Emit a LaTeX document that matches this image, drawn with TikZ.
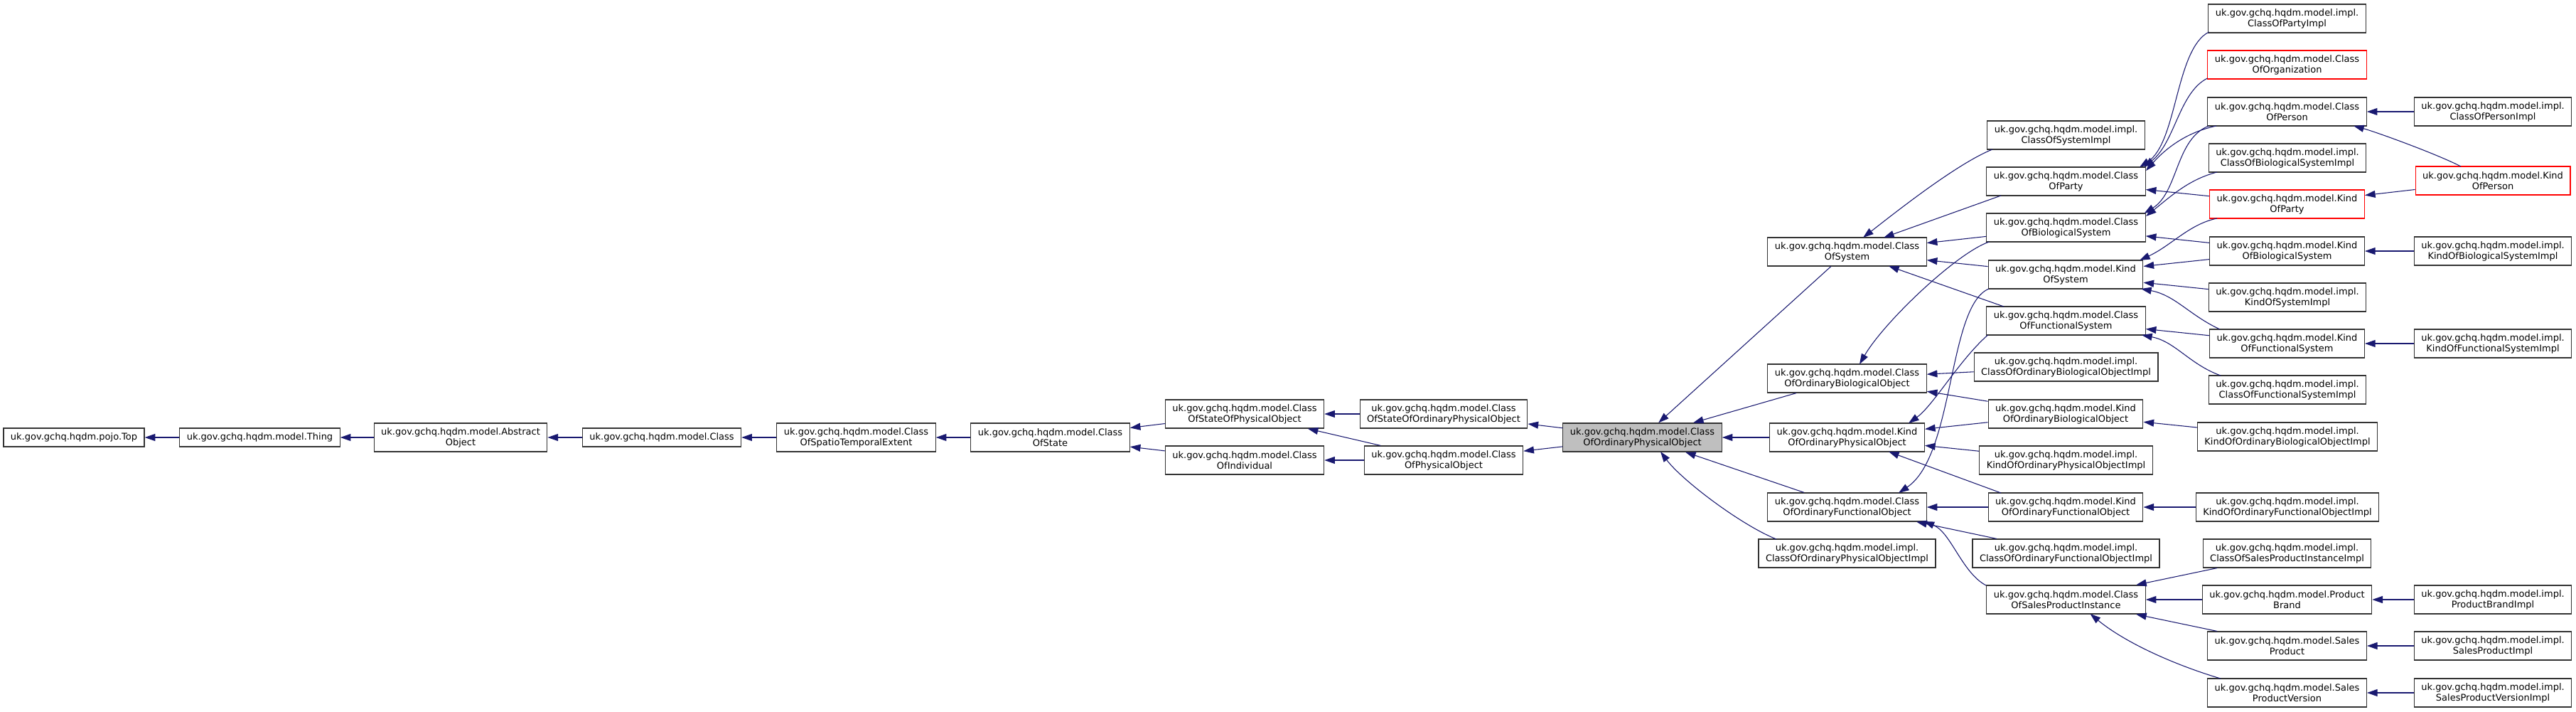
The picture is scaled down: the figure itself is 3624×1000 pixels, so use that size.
\documentclass[tikz,border=0pt]{standalone}
\usepackage{fontspec}
\setmainfont{DejaVu Sans}
\usetikzlibrary{arrows.meta,calc}
\definecolor{edgeblue}{HTML}{191970}
\definecolor{boxgray}{HTML}{BFBFBF}
\tikzset{
  cls/.style={draw=black!80, line width=0.9pt, fill=white, align=center,
    inner xsep=7.5pt, inner ysep=0pt, minimum height=30pt,
    font=\fontsize{9.75pt}{11.25pt}\selectfont},
  cls1/.style={cls, minimum height=19.5pt},
  focus/.style={cls, fill=boxgray},
  nodoc/.style={cls, draw=red},
  inh/.style={draw=edgeblue, line width=0.8pt, -{Triangle[length=11pt,width=7.5pt]}},
}
\newcommand{\pk}{uk.gov.gchq.hqdm.model.}
\begin{document}
\begin{tikzpicture}[x=0.75pt,y=-0.75pt]
  \useasboundingbox (0,0) rectangle (3624,1000);
  % base chain
  \node[cls1] (top) at (104,615) {uk.gov.gchq.hqdm.pojo.Top};
  \node[cls1] (thing) at (365.5,615) {\pk Thing};
  \node[cls] (absobj) at (648,615) {\pk Abstract\\Object};
  \node[cls1] (class) at (931,615) {\pk Class};
  \node[cls] (coste) at (1204.5,615) {\pk Class\\OfSpatioTemporalExtent};
  \node[cls] (costate) at (1477.5,615) {\pk Class\\OfState};
  \node[cls] (cosopo) at (1751,582) {\pk Class\\OfStateOfPhysicalObject};
  \node[cls] (coind) at (1751,647) {\pk Class\\OfIndividual};
  \node[cls] (cosoopo) at (2031,582) {\pk Class\\OfStateOfOrdinaryPhysicalObject};
  \node[cls] (cophys) at (2031,647) {\pk Class\\OfPhysicalObject};
  \node[focus] (coopo) at (2310.5,615) {\pk Class\\OfOrdinaryPhysicalObject};
  % direct subclasses
  \node[cls] (cosys) at (2598.5,354) {\pk Class\\OfSystem};
  \node[cls] (coobo) at (2598.5,532) {\pk Class\\OfOrdinaryBiologicalObject};
  \node[cls] (kopo) at (2598.5,615) {\pk Kind\\OfOrdinaryPhysicalObject};
  \node[cls] (coofo) at (2598.5,713) {\pk Class\\OfOrdinaryFunctionalObject};
  \node[cls] (coopoi) at (2598.5,778) {\pk impl.\\ClassOfOrdinaryPhysicalObjectImpl};
  % next level
  \node[cls] (cosysi) at (2906.5,190) {\pk impl.\\ClassOfSystemImpl};
  \node[cls] (coparty) at (2906.5,255) {\pk Class\\OfParty};
  \node[cls] (cobs) at (2906.5,320) {\pk Class\\OfBiologicalSystem};
  \node[cls] (kosys) at (2906,386) {\pk Kind\\OfSystem};
  \node[cls] (cofs) at (2906.5,451) {\pk Class\\OfFunctionalSystem};
  \node[cls] (cooboi) at (2906.5,516) {\pk impl.\\ClassOfOrdinaryBiologicalObjectImpl};
  \node[cls] (koobo) at (2906,582) {\pk Kind\\OfOrdinaryBiologicalObject};
  \node[cls] (kopoi) at (2906.5,647) {\pk impl.\\KindOfOrdinaryPhysicalObjectImpl};
  \node[cls] (kofo) at (2906,713) {\pk Kind\\OfOrdinaryFunctionalObject};
  \node[cls] (coofoi) at (2906.5,778) {\pk impl.\\ClassOfOrdinaryFunctionalObjectImpl};
  \node[cls] (cospi) at (2906.5,843) {\pk Class\\OfSalesProductInstance};
  % next level
  \node[cls] (copartyi) at (3217.5,26) {\pk impl.\\ClassOfPartyImpl};
  \node[nodoc] (coorg) at (3217.5,91) {\pk Class\\OfOrganization};
  \node[cls] (coperson) at (3217.5,157) {\pk Class\\OfPerson};
  \node[cls] (cobsi) at (3218,222) {\pk impl.\\ClassOfBiologicalSystemImpl};
  \node[nodoc] (koparty) at (3217.5,287) {\pk Kind\\OfParty};
  \node[cls] (kobs) at (3217.5,353) {\pk Kind\\OfBiologicalSystem};
  \node[cls] (kosysi) at (3218,418) {\pk impl.\\KindOfSystemImpl};
  \node[cls] (kofs) at (3217.5,483) {\pk Kind\\OfFunctionalSystem};
  \node[cls] (cofsi) at (3218,548) {\pk impl.\\ClassOfFunctionalSystemImpl};
  \node[cls] (kooboi) at (3218,614) {\pk impl.\\KindOfOrdinaryBiologicalObjectImpl};
  \node[cls] (kofoi) at (3218,713) {\pk impl.\\KindOfOrdinaryFunctionalObjectImpl};
  \node[cls] (cospii) at (3217.5,778) {\pk impl.\\ClassOfSalesProductInstanceImpl};
  \node[cls] (pbrand) at (3217.5,843) {\pk Product\\Brand};
  \node[cls] (sprod) at (3217.5,908) {\pk Sales\\Product};
  \node[cls] (spver) at (3217.5,974) {\pk Sales\\ProductVersion};
  % last level
  \node[cls] (copersoni) at (3507,157) {\pk impl.\\ClassOfPersonImpl};
  \node[nodoc] (koperson) at (3507,254) {\pk Kind\\OfPerson};
  \node[cls] (kobsi) at (3507,353) {\pk impl.\\KindOfBiologicalSystemImpl};
  \node[cls] (kofsi) at (3507,483) {\pk impl.\\KindOfFunctionalSystemImpl};
  \node[cls] (pbrandi) at (3507,843) {\pk impl.\\ProductBrandImpl};
  \node[cls] (sprodi) at (3507,908) {\pk impl.\\SalesProductImpl};
  \node[cls] (spveri) at (3507,974) {\pk impl.\\SalesProductVersionImpl};

  % straight edges
  \foreach \c/\p in {thing/top, absobj/thing, class/absobj, coste/class,
      costate/coste, cosopo/costate, coind/costate, cosoopo/cosopo,
      cophys/cosopo, cophys/coind, coopo/cosoopo, coopo/cophys,
      cosys/coopo, coobo/coopo, kopo/coopo, coofo/coopo,
      cobs/cosys, kosys/cosys, cooboi/coobo, koobo/coobo, koobo/kopo,
      kopoi/kopo, kofo/coofo, coofoi/coofo,
      koparty/coparty, kobs/cobs, kobs/kosys, kosysi/kosys, kofs/cofs,
      kooboi/koobo, kofoi/kofo, cospii/cospi, pbrand/cospi, sprod/cospi,
      copersoni/coperson, koperson/koparty, kobsi/kobs, kofsi/kofs,
      pbrandi/pbrand, sprodi/sprod, spveri/spver}
    \draw[inh] (\c) -- (\p);
  \draw[inh] ($(coparty)+(-91.5,20)$) -- ($(cosys)+(51.5,-20)$);
  \draw[inh] ($(cofs)+(-87.5,-20)$) -- ($(cosys)+(58.5,20)$);
  \draw[inh] ($(kofo)+(-91,-20)$) -- ($(kopo)+(58.5,20)$);

  % curved edges
  \draw[inh] ($(cosysi)+(-103.5,20)$) .. controls +(-50,20) and +(45,-35) .. ($(cosys)+(22.5,-20)$);
  \draw[inh] ($(cobs)+(-108,20)$) .. controls +(-45,15) and +(35,-60) .. ($(coobo)+(17.5,-20)$);
  \draw[inh] ($(cofs)+(-110,20)$) .. controls +(-40,35) and +(35,-25) .. ($(kopo)+(86.5,-20)$);
  \draw[inh] ($(kosys)+(-108,20)$) .. controls +(-58,24) and +(79,-53) .. ($(coofo)+(72.5,-20)$);
  \draw[inh] ($(cospi)+(-112.5,-20)$) .. controls +(-34,-18) and +(38,15) .. ($(coofo)+(108,20)$);
  \draw[inh] ($(coopoi)+(-99.5,-20)$) .. controls +(-50,-20) and +(30,40) .. ($(coopo)+(25.5,20)$);
  \draw[inh] ($(copartyi)+(-110,19)$) .. controls +(-47,24) and +(53,-35) .. ($(coparty)+(103.5,-20)$);
  \draw[inh] ($(coorg)+(-112,19)$) .. controls +(-40,20) and +(44,-35) .. ($(coparty)+(109.5,-20)$);
  \draw[inh] ($(coperson)+(-99.5,20)$) .. controls +(-38,8) and +(31,-35) .. ($(coparty)+(112.5,-15)$);
  \draw[inh] ($(coperson)+(-110,20)$) .. controls +(-47,18) and +(48,-30) .. ($(cobs)+(110,-20)$);
  \draw[inh] ($(cobsi)+(-99,20)$) .. controls +(-39,10) and +(36,-29) .. ($(cobs)+(112.5,-16)$);
  \draw[inh] ($(koparty)+(-98.5,20)$) .. controls +(-39,8) and +(45,-21) .. ($(kosys)+(104,-20)$);
  \draw[inh] ($(kofs)+(-94.5,-20)$) .. controls +(-43,-20) and +(48,9) .. ($(kosys)+(106,20)$);
  \draw[inh] ($(cofsi)+(-94,-20)$) .. controls +(-44,-16) and +(47,9) .. ($(cofs)+(106.5,20)$);
  \draw[inh] ($(spver)+(-93.5,-20)$) .. controls +(-64,-19) and +(50,41) .. ($(cospi)+(34,20)$);
  \draw[inh] ($(koperson)+(-45,-20)$) .. controls +(-35,-18) and +(30,8) .. ($(coperson)+(93.5,20)$);
\end{tikzpicture}
\end{document}
